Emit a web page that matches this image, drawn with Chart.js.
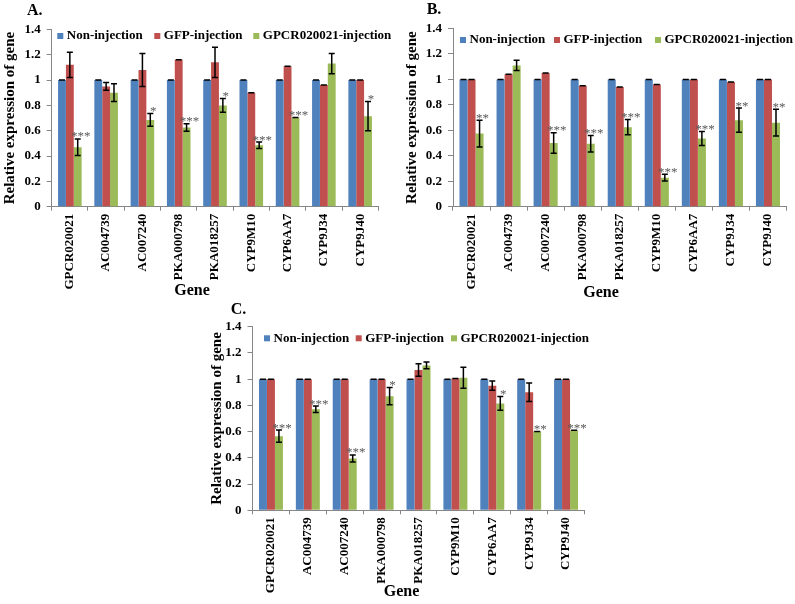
<!DOCTYPE html>
<html>
<head>
<meta charset="utf-8">
<script src="https://cdn.jsdelivr.net/npm/chart.js"></script>
<style>
  html, body { margin: 0; padding: 0; background: #fff; }
  body { width: 795px; height: 604px; position: relative; overflow: hidden; }
  canvas { position: absolute; }
</style>
</head>
<body>
<canvas id="cA"></canvas>
<canvas id="cB"></canvas>
<canvas id="cC"></canvas>
<script>
// ---------------- DATA ----------------
const genes = ['GPCR020021','AC004739','AC007240','PKA000798','PKA018257','CYP9M10','CYP6AA7','CYP9J34','CYP9J40'];
const seriesNames = ['Non-injection','GFP-injection','GPCR020021-injection'];
const yTickValues = [0, 0.2, 0.4, 0.6, 0.8, 1, 1.2, 1.4];

// Panel A
const nonA     = [1, 1, 1, 1, 1, 1, 1, 1, 1];
const nonAErr  = [0, 0, 0, 0, 0, 0, 0, 0, 0];
const gfpA     = [1.12, 0.95, 1.08, 1.16, 1.14, 0.90, 1.11, 0.96, 1.00];
const gfpAErr  = [0.10, 0.03, 0.13, 0, 0.12, 0, 0, 0, 0];
const gpcrA    = [0.47, 0.90, 0.685, 0.625, 0.80, 0.485, 0.705, 1.13, 0.715];
const gpcrAErr = [0.065, 0.07, 0.05, 0.03, 0.055, 0.025, 0, 0.08, 0.115];
const starsA   = ['***', '', '*', '***', '*', '***', '***', '', '*'];

// Panel B
const nonB     = [1, 1, 1, 1, 1, 1, 1, 1, 1];
const nonBErr  = [0, 0, 0, 0, 0, 0, 0, 0, 0];
const gfpB     = [1.00, 1.04, 1.05, 0.95, 0.94, 0.96, 1.00, 0.98, 1.00];
const gfpBErr  = [0, 0, 0, 0, 0, 0, 0, 0, 0];
const gpcrB    = [0.575, 1.11, 0.50, 0.495, 0.625, 0.228, 0.535, 0.68, 0.66];
const gpcrBErr = [0.105, 0.04, 0.08, 0.065, 0.06, 0.026, 0.055, 0.095, 0.105];
const starsB   = ['**', '', '***', '***', '***', '***', '***', '**', '**'];

// Panel C
const nonC     = [1, 1, 1, 1, 1, 1, 1, 1, 1];
const nonCErr  = [0, 0, 0, 0, 0, 0, 0, 0, 0];
const gfpC     = [1, 1, 1, 1, 1.07, 1.005, 0.95, 0.90, 1];
const gfpCErr  = [0, 0, 0, 0, 0.048, 0, 0.035, 0.07, 0];
const gpcrC    = [0.565, 0.77, 0.395, 0.87, 1.105, 1.01, 0.815, 0.60, 0.61];
const gpcrCErr = [0.047, 0.025, 0.027, 0.066, 0.025, 0.08, 0.053, 0, 0];
const starsC   = ['***', '***', '***', '*', '', '', '*', '**', '***'];

// ---------------- STYLE / LAYOUT ----------------
const COLORS = ['#4F81BD', '#C0504D', '#9BBB59'];
const FONT = "'Liberation Serif', 'Times New Roman', serif";
const AXIS_COLOR = '#868686';

Chart.defaults.font.family = FONT;
Chart.defaults.font.size = 13;
Chart.defaults.font.weight = 'bold';
Chart.defaults.color = '#000';

const panels = [
  { id: 'cA', letter: 'A.', left: 0, top: 0, w: 397, h: 300,
    area: { l: 51.7, r: 378.3, t: 29.4, b: 206.7 },
    letterPos: [27, 11], yTitleX: 10, genePos: [192, 291],
    legendSq: [57.3, 154.3, 253.3], legendY: 36,
    vals: [nonA, gfpA, gpcrA], errs: [nonAErr, gfpAErr, gpcrAErr], stars: starsA },
  { id: 'cB', letter: 'B.', left: 398, top: 0, w: 397, h: 300,
    area: { l: 453, r: 786.5, t: 28.5, b: 206.7 },
    letterPos: [426.7, 10], yTitleX: 412, genePos: [601, 293],
    legendSq: [460, 554, 655], legendY: 40,
    vals: [nonB, gfpB, gpcrB], errs: [nonBErr, gfpBErr, gpcrBErr], stars: starsB },
  { id: 'cC', letter: 'C.', left: 190, top: 300, w: 420, h: 304,
    area: { l: 252.5, r: 584.5, t: 326.7, b: 510.3 },
    letterPos: [230.7, 310], yTitleX: 217, genePos: [401.5, 591.5],
    legendSq: [264, 355.7, 451], legendY: 338.3,
    vals: [nonC, gfpC, gpcrC], errs: [nonCErr, gfpCErr, gpcrCErr], stars: starsC }
];

function makeDecor(p) {
  return {
    id: 'decor_' + p.id,
    afterDatasetsDraw(chart) {
      const ctx = chart.ctx;
      const ys = chart.scales.y;
      ctx.save();
      // error bars
      ctx.strokeStyle = '#000';
      ctx.lineWidth = 1.5;
      for (let d = 0; d < 3; d++) {
        const meta = chart.getDatasetMeta(d);
        meta.data.forEach((bar, j) => {
          const v = p.vals[d][j], e = p.errs[d][j];
          const yt = ys.getPixelForValue(v + e);
          const yb = ys.getPixelForValue(v - e);
          const x = bar.x;
          ctx.beginPath();
          if (e > 0) { ctx.moveTo(x, yt); ctx.lineTo(x, yb); }
          ctx.moveTo(x - 3, yt); ctx.lineTo(x + 3, yt);
          ctx.moveTo(x - 3, yb); ctx.lineTo(x + 3, yb);
          ctx.stroke();
        });
      }
      // significance stars
      const gm = chart.getDatasetMeta(2);
      ctx.fillStyle = '#595959';
      ctx.font = 'normal 13px ' + FONT;
      ctx.textAlign = 'center';
      ctx.textBaseline = 'alphabetic';
      gm.data.forEach((bar, j) => {
        const s = p.stars[j];
        if (!s) return;
        const yt = ys.getPixelForValue(p.vals[2][j] + p.errs[2][j]);
        ctx.fillText(s, bar.x + 3, yt + 1.5);
      });
      ctx.restore();
    },
    afterDraw(chart) {
      const ctx = chart.ctx;
      const ox = p.left, oy = p.top;
      ctx.save();
      ctx.fillStyle = '#000';
      // panel letter
      ctx.font = 'bold 16px ' + FONT;
      ctx.textAlign = 'left';
      ctx.textBaseline = 'middle';
      ctx.fillText(p.letter, p.letterPos[0] - ox, p.letterPos[1] - oy);
      // legend
      ctx.font = 'bold 13px ' + FONT;
      for (let i = 0; i < 3; i++) {
        const sx = p.legendSq[i] - ox, sy = p.legendY - oy;
        ctx.fillStyle = COLORS[i];
        ctx.fillRect(sx, sy - 3, 6, 6);
        ctx.fillStyle = '#000';
        ctx.textAlign = 'left';
        ctx.fillText(chart.data.datasets[i].label, sx + 9.5, sy);
      }
      // x title
      ctx.font = 'bold 16px ' + FONT;
      ctx.textAlign = 'center';
      ctx.fillText('Gene', p.genePos[0] - ox, p.genePos[1] - oy);
      // y title
      const ca = chart.chartArea;
      ctx.font = 'bold 15px ' + FONT;
      ctx.translate(p.yTitleX - ox, (ca.top + ca.bottom) / 2);
      ctx.rotate(-Math.PI / 2);
      ctx.textAlign = 'center';
      ctx.textBaseline = 'middle';
      ctx.fillText('Relative expression of gene', 0, 0);
      ctx.restore();
    }
  };
}

panels.forEach(p => {
  const cv = document.getElementById(p.id);
  cv.width = p.w; cv.height = p.h;
  cv.style.left = p.left + 'px'; cv.style.top = p.top + 'px';
  cv.style.width = p.w + 'px'; cv.style.height = p.h + 'px';
  const a = p.area;
  const yW = a.l - p.left;
  const xH = p.top + p.h - a.b;
  new Chart(cv, {
    type: 'bar',
    data: {
      labels: genes,
      datasets: seriesNames.map((n, i) => ({
        label: n,
        data: p.vals[i],
        backgroundColor: COLORS[i],
        borderWidth: 0,
        barPercentage: 1,
        categoryPercentage: 0.65
      }))
    },
    options: {
      responsive: false,
      animation: false,
      devicePixelRatio: 1,
      layout: { padding: { left: 0, top: a.t - p.top, right: p.left + p.w - a.r, bottom: 0 } },
      plugins: { legend: { display: false }, tooltip: { enabled: false }, title: { display: false } },
      scales: {
        x: {
          afterFit(s) { s.height = xH; },
          grid: { drawOnChartArea: false, drawTicks: true, tickLength: 4, color: AXIS_COLOR, offset: true },
          border: { display: true, color: AXIS_COLOR, width: 1 },
          ticks: { maxRotation: 90, minRotation: 90, autoSkip: false, padding: 3,
                   font: { size: 13, weight: 'bold', family: FONT }, color: '#000' }
        },
        y: {
          min: 0, max: 1.4,
          afterFit(s) { s.width = yW; },
          afterBuildTicks(s) { s.ticks = yTickValues.map(v => ({ value: v })); },
          grid: { drawOnChartArea: false, drawTicks: true, tickLength: 5, color: AXIS_COLOR },
          border: { display: true, color: AXIS_COLOR, width: 1 },
          ticks: { padding: 6, font: { size: 13, weight: 'bold', family: FONT }, color: '#000',
                   callback: v => String(Math.round(v * 10) / 10) }
        }
      }
    },
    plugins: [makeDecor(p)]
  });
});
</script>
</body>
</html>
